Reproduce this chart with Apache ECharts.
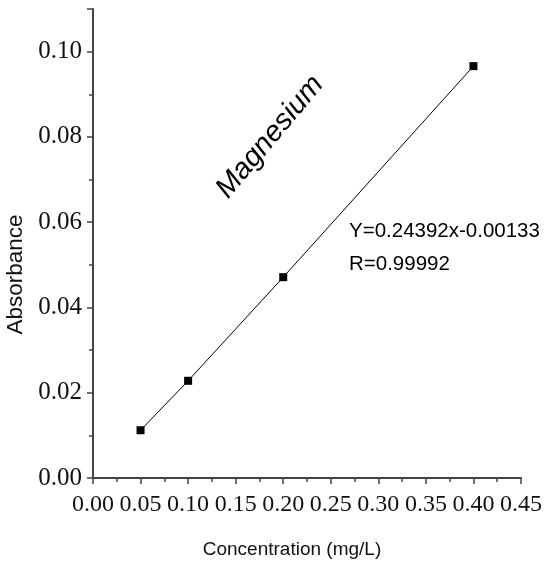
<!DOCTYPE html>
<html>
<head>
<meta charset="utf-8">
<script src="https://cdn.jsdelivr.net/npm/echarts@6/dist/echarts.min.js"></script>
<style>
  html, body { margin: 0; padding: 0; background: #fff; }
  #main { width: 547px; height: 573px; }
</style>
</head>
<body>
<div id="main"></div>
<script>
var chart = echarts.init(document.getElementById('main'));

// values
var concentration = [0.05, 0.10, 0.20, 0.40];
var absorbance = [0.0112, 0.0228, 0.0471, 0.0966];
var equation = 'Y=0.24392x-0.00133';
var rValue = 'R=0.99992';
var element = 'Magnesium';

var points = [];
for (var i = 0; i < concentration.length; i++) {
    points.push([concentration[i], absorbance[i]]);
}

var axisColor = '#444';
var labelFont = 'Liberation Serif';

var option = {
    backgroundColor: '#fff',
    animation: false,
    grid: {
        left: 93,
        right: 26,
        top: 9,
        bottom: 95,
        containLabel: false,
        outerBoundsMode: 'none'
    },
    xAxis: {
        type: 'value',
        min: 0,
        max: 0.45,
        interval: 0.05,
        name: 'Concentration (mg/L)',
        nameLocation: 'middle',
        nameGap: 62,
        nameTextStyle: {
            fontFamily: 'Liberation Sans',
            fontSize: 19,
            color: '#111',
            padding: [0, 30, 0, 0]
        },
        axisLine: { lineStyle: { color: axisColor, width: 2 } },
        axisTick: { inside: false, length: 6, lineStyle: { color: axisColor, width: 1.5 } },
        minorTick: { show: true, splitNumber: 2, length: 4, lineStyle: { color: axisColor, width: 1.5 } },
        splitLine: { show: false },
        axisLabel: {
            margin: 15,
            fontFamily: labelFont,
            fontSize: 24,
            color: '#111',
            formatter: function (v) { return v.toFixed(2); }
        }
    },
    yAxis: {
        type: 'value',
        min: 0,
        max: 0.11,
        interval: 0.02,
        name: 'Absorbance',
        nameLocation: 'middle',
        nameGap: 64,
        nameTextStyle: {
            fontFamily: 'Liberation Sans',
            fontSize: 22.5,
            color: '#111',
            padding: [0, 62, 0, 0]
        },
        axisLine: { show: true, lineStyle: { color: axisColor, width: 2 } },
        axisTick: { show: true, inside: false, length: 6, lineStyle: { color: axisColor, width: 1.5 } },
        minorTick: { show: true, splitNumber: 2, length: 4, lineStyle: { color: axisColor, width: 1.5 } },
        splitLine: { show: false },
        axisLabel: {
            margin: 11,
            fontFamily: labelFont,
            fontSize: 25,
            color: '#111',
            showMaxLabel: false,
            formatter: function (v) { return v.toFixed(2); }
        }
    },
    series: [
        {
            type: 'line',
            data: points,
            symbol: 'rect',
            symbolSize: 8,
            itemStyle: { color: '#000' },
            lineStyle: { color: '#000', width: 1 }
        }
    ],
    graphic: [
        {
            type: 'text',
            x: 270,
            y: 137,
            rotation: 50 * Math.PI / 180,
            style: {
                text: element,
                fontFamily: 'Liberation Sans',
                fontStyle: 'italic',
                fontSize: 29,
                fill: '#000',
                align: 'center',
                verticalAlign: 'middle'
            }
        },
        {
            type: 'text',
            x: 349,
            y: 231,
            style: {
                text: equation,
                fontFamily: 'Liberation Sans',
                fontSize: 20.5,
                fill: '#000',
                align: 'left',
                verticalAlign: 'middle'
            }
        },
        {
            type: 'text',
            x: 349,
            y: 264,
            style: {
                text: rValue,
                fontFamily: 'Liberation Sans',
                fontSize: 20.5,
                fill: '#000',
                align: 'left',
                verticalAlign: 'middle'
            }
        }
    ]
};

chart.setOption(option);
</script>
</body>
</html>
